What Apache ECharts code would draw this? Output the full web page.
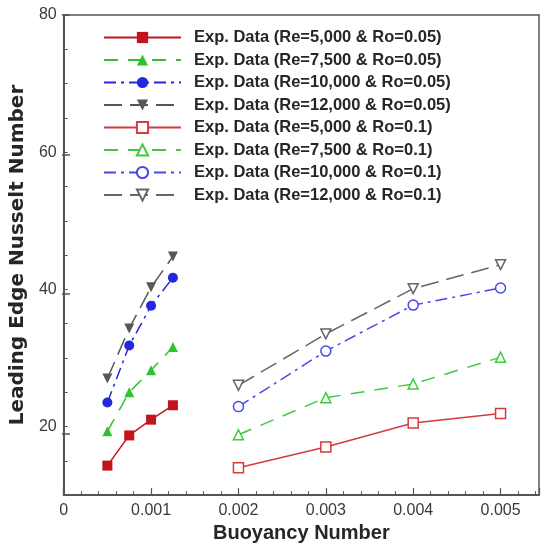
<!DOCTYPE html>
<html>
<head>
<meta charset="utf-8">
<script src="https://cdn.jsdelivr.net/npm/echarts@6/dist/echarts.min.js"></script>
<style>html,body{margin:0;padding:0;background:#fff;}#c{width:541px;height:548px;}</style>
</head>
<body>
<div id="c"></div>
<script>
const xLow = [0.0005, 0.00075, 0.001, 0.00125];
const xHigh = [0.002, 0.003, 0.004, 0.005];

const re5k_ro005 = [14.3, 18.7, 21.0, 23.1];
const re7k5_ro005 = [19.3, 25.0, 28.2, 31.6];
const re10k_ro005 = [23.5, 31.8, 37.6, 41.7];
const re12k_ro005 = [27.0, 34.3, 40.3, 44.8];

const re5k_ro01 = [14.0, 17.0, 20.5, 21.9];
const re7k5_ro01 = [18.8, 24.2, 26.2, 30.1];
const re10k_ro01 = [22.9, 31.0, 37.7, 40.2];
const re12k_ro01 = [26.0, 33.5, 40.1, 43.6];

const seriesNames = [
  'Exp. Data (Re=5,000 & Ro=0.05)',
  'Exp. Data (Re=7,500 & Ro=0.05)',
  'Exp. Data (Re=10,000 & Ro=0.05)',
  'Exp. Data (Re=12,000 & Ro=0.05)',
  'Exp. Data (Re=5,000 & Ro=0.1)',
  'Exp. Data (Re=7,500 & Ro=0.1)',
  'Exp. Data (Re=10,000 & Ro=0.1)',
  'Exp. Data (Re=12,000 & Ro=0.1)'
];
const xTickLabels = ['0', '0.001', '0.002', '0.003', '0.004', '0.005'];
const yTickLabels = ['20', '40', '60', '80'];

const RED = '#c3131c', GREEN = '#2fc22f', BLUE = '#2626e0', GRAY = '#575757';
const RED2 = '#d63a3a', GREEN2 = '#3dcb3d', BLUE2 = '#4848e6', GRAY2 = '#666666';

function pairs(xs, ys) { return xs.map((x, i) => [x, ys[i]]); }

function mk(name, xs, ys, color, symbol, rotate, dash, filled) {
  return {
    name: name,
    type: 'line',
    xAxisIndex: 0, yAxisIndex: 0,
    data: pairs(xs, ys),
    symbol: symbol,
    symbolSize: 10,
    symbolRotate: rotate,
    showAllSymbol: true,
    lineStyle: { color: color, width: 1.5, type: dash },
    itemStyle: { color: filled ? color : '#fff', borderColor: color, borderWidth: filled ? 0 : 1.5 },
    emphasis: { disabled: true },
    animation: false
  };
}

const solid = 'solid', dashed = [14, 10], dashdot = [12, 5, 3, 5], longdash = [18, 8];

const series = [
  mk(seriesNames[0], xLow, re5k_ro005, RED, 'rect', 0, solid, true),
  mk(seriesNames[1], xLow, re7k5_ro005, GREEN, 'triangle', 0, dashed, true),
  mk(seriesNames[2], xLow, re10k_ro005, BLUE, 'circle', 0, dashdot, true),
  mk(seriesNames[3], xLow, re12k_ro005, GRAY, 'triangle', 180, longdash, true),
  mk(seriesNames[4], xHigh, re5k_ro01, RED2, 'rect', 0, solid, false),
  mk(seriesNames[5], xHigh, re7k5_ro01, GREEN2, 'triangle', 0, dashed, false),
  mk(seriesNames[6], xHigh, re10k_ro01, BLUE2, 'circle', 0, dashdot, false),
  mk(seriesNames[7], xHigh, re12k_ro01, GRAY2, 'triangle', 180, longdash, false)
];

const FONT = 'Liberation Sans, Arial, Helvetica, sans-serif';
const chart = echarts.init(document.getElementById('c'), null, { renderer: 'canvas' });
const axisCol = '#555';
// main plot: y 10..80 mapped onto 15..503 px; helper grid carries the long major ticks (20..80)
const Y_MIN = 10, Y_MAX = 80, TOP = 15, BOTTOM = 45;
const plotH = 548 - TOP - BOTTOM;
const y20 = TOP + plotH * (Y_MAX - 20) / (Y_MAX - Y_MIN);
chart.setOption({
  backgroundColor: '#fff',
  animation: false,
  grid: [
    { left: 62, top: TOP, right: 2, bottom: BOTTOM, show: true, borderColor: axisCol, borderWidth: 1.5 },
    { left: 62, top: TOP, right: 2, bottom: 548 - y20, show: false }
  ],
  legend: {
    orient: 'vertical',
    left: 103, top: 29, padding: 0,
    itemWidth: 77, itemHeight: 14, itemGap: 5.5,
    textStyle: { fontFamily: FONT, fontWeight: 'bold', fontSize: 16.5, color: '#262626', padding: [0, 0, 0, 8] },
    data: seriesNames,
    selectedMode: false
  },
  xAxis: [{
    type: 'value', gridIndex: 0, min: 0, max: 0.00544, interval: 0.001,
    name: 'Buoyancy Number', nameLocation: 'middle', nameGap: 25,
    nameTextStyle: { fontFamily: FONT, fontWeight: 'bold', fontSize: 20, color: '#262626' },
    axisLine: { show: true, lineStyle: { color: axisCol, width: 2 } },
    axisTick: { show: true, inside: true, length: 7, lineStyle: { color: axisCol, width: 1.2 } },
    minorTick: { show: true, splitNumber: 5, length: 4, lineStyle: { color: axisCol, width: 1 } },
    splitLine: { show: false },
    axisLabel: {
      showMaxLabel: false, margin: 7,
      fontFamily: FONT, fontSize: 16, color: '#3a3a3a',
      formatter: v => { const i = Math.round(v / 0.001); return (Math.abs(v - i * 0.001) < 1e-9 && xTickLabels[i] !== undefined) ? xTickLabels[i] : ''; }
    }
  }, {
    type: 'value', gridIndex: 1, min: 0, max: 0.00544, show: false
  }],
  yAxis: [{
    type: 'value', gridIndex: 0, min: Y_MIN, max: Y_MAX, interval: 5,
    name: 'Leading Edge Nusselt Number', nameLocation: 'middle', nameGap: 35,
    nameTextStyle: { fontFamily: 'DejaVu Sans, sans-serif', fontWeight: 'bold', fontSize: 20, color: '#262626' },
    axisLine: { show: true, lineStyle: { color: axisCol, width: 2 } },
    axisTick: { show: true, inside: true, length: 4, lineStyle: { color: axisCol, width: 1 } },
    splitLine: { show: false },
    axisLabel: {
      margin: 7,
      fontFamily: FONT, fontSize: 16, color: '#3a3a3a',
      formatter: v => yTickLabels.indexOf(String(Math.round(v))) >= 0 ? String(Math.round(v)) : ''
    }
  }, {
    type: 'value', gridIndex: 1, min: 20, max: 80, interval: 20,
    axisLine: { show: false },
    axisTick: { show: true, inside: true, length: 8, lineStyle: { color: axisCol, width: 1.5 } },
    axisLabel: { show: false },
    splitLine: { show: false }
  }],
  series: series
});
</script>
</body>
</html>
